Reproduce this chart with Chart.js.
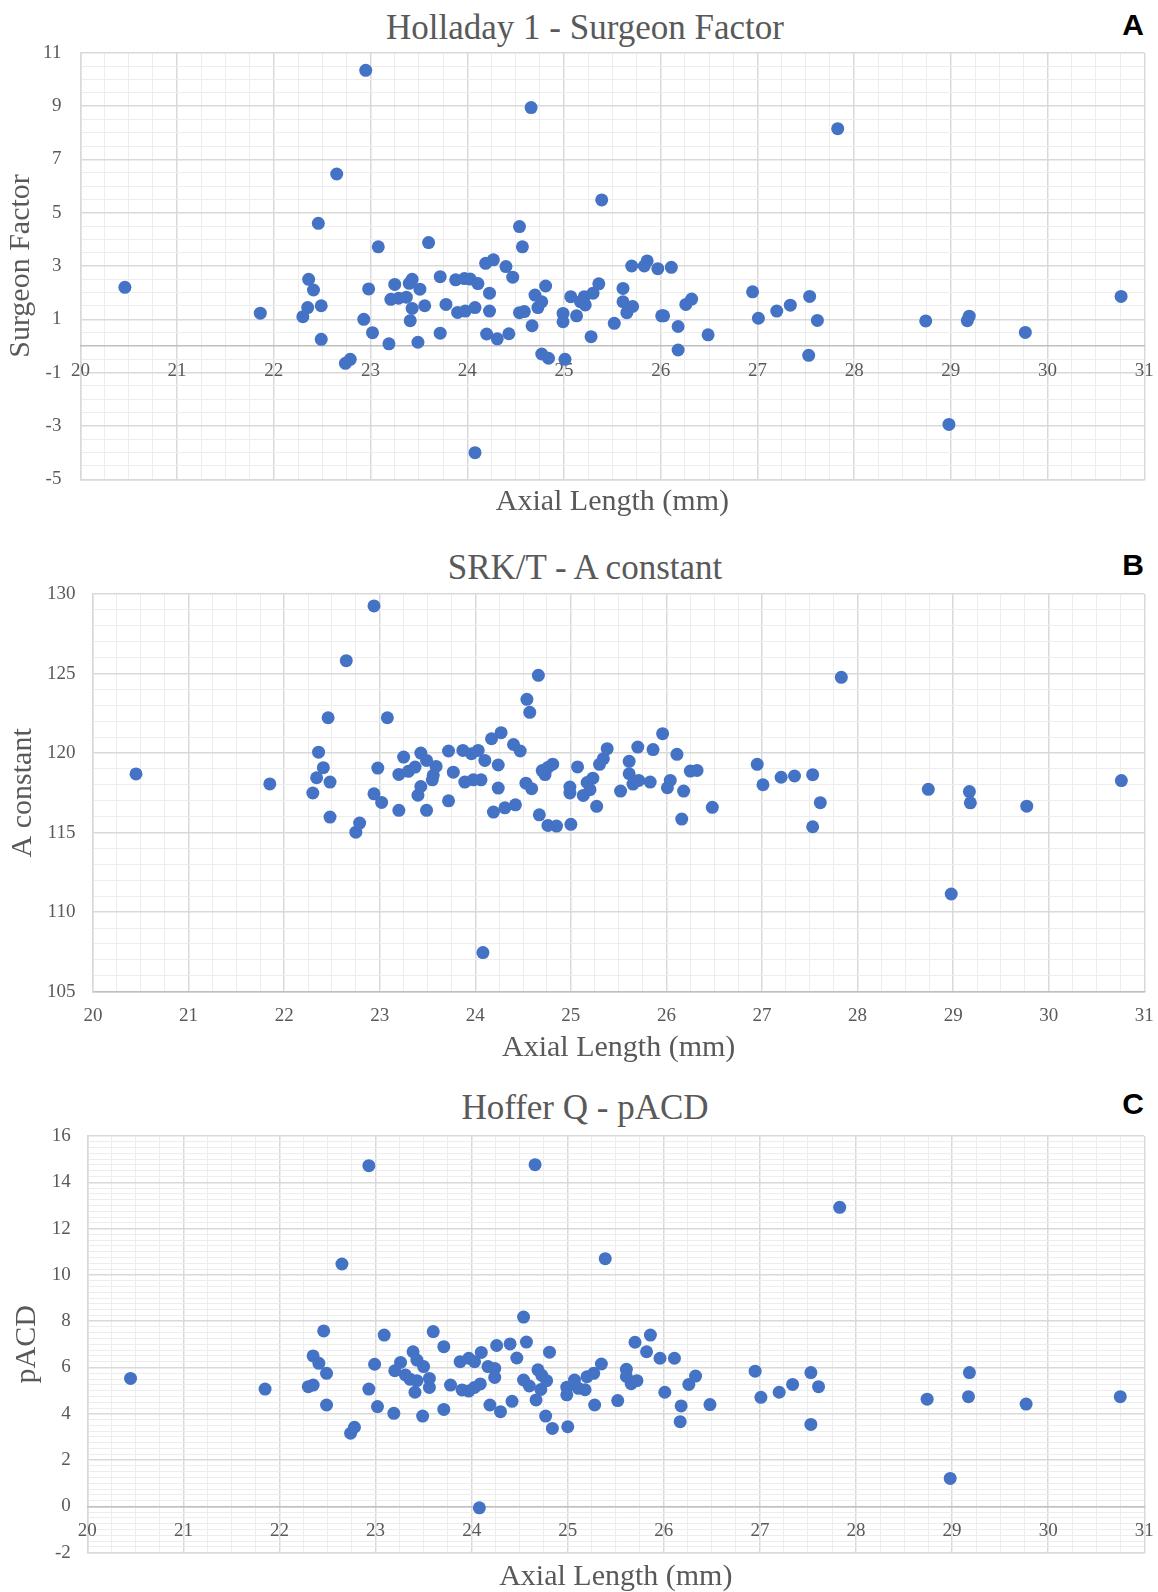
<!DOCTYPE html>
<html>
<head>
<meta charset="utf-8">
<script src="https://cdn.jsdelivr.net/npm/chart.js@4.4.0/dist/chart.umd.min.js"></script>
<style>
  html, body { margin: 0; padding: 0; background: #fff; }
  #page { position: relative; width: 1158px; height: 1592px; overflow: hidden; }
  canvas { position: absolute; left: 0; }
  .title {
    position: absolute; left: 0; width: 1170px; text-align: center;
    font-family: "Liberation Serif", serif; font-size: 35px; line-height: 35px;
    color: #595959; white-space: nowrap;
  }
  .letter {
    position: absolute; left: 1044px; width: 100px; text-align: right;
    font-family: "Liberation Sans", Arial, sans-serif; font-weight: bold;
    font-size: 30px; line-height: 30px; color: #000;
  }
</style>
</head>
<body>
<div id="page">
  <div class="title" style="top:10px">Holladay 1 - Surgeon Factor</div>
  <div class="letter" style="top:10px">A</div>
  <canvas id="chartA" width="1158" height="530" style="top:0px"></canvas>

  <div class="title" style="top:550px">SRK/T - A constant</div>
  <div class="letter" style="top:550px">B</div>
  <canvas id="chartB" width="1158" height="540" style="top:530px"></canvas>

  <div class="title" style="top:1090px">Hoffer Q - pACD</div>
  <div class="letter" style="top:1089px">C</div>
  <canvas id="chartC" width="1158" height="522" style="top:1070px"></canvas>
</div>
<script>
// x axis shared by the three panels
const axialRange = [20, 31]

// A: Holladay 1 - Surgeon Factor
const axialA = [20.46, 21.86, 22.30, 22.35, 22.36, 22.41, 22.46, 22.49, 22.49, 22.65,
  22.74, 22.79, 22.93, 22.95, 22.98, 23.02, 23.08, 23.19, 23.21, 23.25,
  23.29, 23.37, 23.40, 23.41, 23.43, 23.43, 23.49, 23.51, 23.56, 23.60,
  23.72, 23.72, 23.78, 23.88, 23.90, 23.97, 23.98, 24.03, 24.08, 24.08,
  24.11, 24.19, 24.20, 24.23, 24.23, 24.27, 24.31, 24.40, 24.43, 24.47,
  24.54, 24.54, 24.57, 24.59, 24.66, 24.67, 24.70, 24.73, 24.77, 24.77,
  24.81, 24.84, 24.99, 24.99, 25.01, 25.07, 25.13, 25.17, 25.21, 25.22,
  25.28, 25.30, 25.36, 25.39, 25.52, 25.61, 25.61, 25.65, 25.70, 25.71,
  25.83, 25.86, 25.97, 26.01, 26.03, 26.11, 26.18, 26.18, 26.26, 26.32,
  26.49, 26.95, 27.01, 27.20, 27.34, 27.53, 27.54, 27.62, 27.83, 28.74,
  28.98, 29.17, 29.19, 29.77, 30.76]
const surgeonFactor = [2.2, 1.23, 1.10, 1.44, 2.50, 2.10, 4.60, 1.51, 0.25, 6.45,
  -0.65, -0.50, 1.00, 10.34, 2.14, 0.50, 3.72, 0.08, 1.75, 2.31,
  1.79, 1.83, 2.35, 0.95, 2.50, 1.41, 0.14, 2.13, 1.51, 3.88,
  2.60, 0.48, 1.56, 2.48, 1.26, 2.53, 1.31, 2.51, 1.44, -4.00,
  2.34, 3.10, 0.45, 1.98, 1.31, 3.23, 0.27, 2.98, 0.46, 2.58,
  4.48, 1.25, 3.72, 1.29, 8.94, 0.76, 1.91, 1.44, 1.66, -0.30,
  2.25, -0.46, 1.22, 0.91, -0.50, 1.85, 1.13, 1.66, 1.85, 1.54,
  0.35, 1.98, 2.33, 5.48, 0.85, 2.16, 1.66, 1.25, 3.00, 1.48,
  3.00, 3.19, 2.90, 1.13, 1.13, 2.95, 0.73, -0.15, 1.56, 1.76,
  0.42, 2.03, 1.04, 1.31, 1.53, -0.35, 1.86, 0.96, 8.15, 0.94,
  -2.94, 0.95, 1.12, 0.51, 1.86]

// B: SRK/T - A constant
const axialB = [20.45, 21.85, 22.30, 22.34, 22.36, 22.41, 22.46, 22.48, 22.48, 22.65,
  22.75, 22.79, 22.94, 22.94, 22.98, 23.02, 23.08, 23.20, 23.20, 23.25,
  23.30, 23.37, 23.40, 23.43, 23.43, 23.49, 23.49, 23.55, 23.56, 23.59,
  23.72, 23.72, 23.77, 23.87, 23.89, 23.96, 23.98, 24.03, 24.06, 24.08,
  24.10, 24.17, 24.19, 24.24, 24.24, 24.27, 24.31, 24.40, 24.42, 24.47,
  24.53, 24.54, 24.57, 24.59, 24.66, 24.67, 24.70, 24.73, 24.76, 24.76,
  24.81, 24.85, 24.99, 24.99, 25.00, 25.07, 25.13, 25.17, 25.20, 25.23,
  25.27, 25.30, 25.34, 25.38, 25.52, 25.61, 25.61, 25.65, 25.71, 25.70,
  25.83, 25.86, 25.96, 26.01, 26.04, 26.11, 26.16, 26.18, 26.25, 26.32,
  26.48, 26.95, 27.01, 27.20, 27.34, 27.53, 27.53, 27.61, 27.83, 28.74,
  28.98, 29.17, 29.18, 29.77, 30.76]
const aConstant = [118.69, 118.06, 117.49, 118.45, 120.06, 119.08, 122.22, 118.18, 115.98, 125.81,
  115.03, 115.60, 117.44, 129.25, 119.06, 116.90, 122.22, 116.40, 118.66, 119.75,
  118.85, 119.12, 117.35, 117.90, 120.00, 119.54, 116.40, 118.32, 118.60, 119.16,
  120.13, 117.00, 118.80, 120.17, 118.18, 119.96, 118.32, 120.17, 118.32, 107.46,
  119.54, 120.90, 116.29, 119.25, 117.80, 121.28, 116.56, 120.54, 116.75, 120.13,
  118.11, 123.38, 122.56, 117.76, 124.89, 116.12, 118.90, 118.65, 119.10, 115.45,
  119.30, 115.41, 117.86, 117.49, 115.52, 119.13, 117.34, 118.15, 117.70, 118.42,
  116.65, 119.29, 119.65, 120.28, 117.61, 119.48, 118.70, 118.05, 118.28, 120.38,
  118.18, 120.22, 121.22, 117.82, 118.28, 119.92, 115.85, 117.61, 118.87, 118.91,
  116.59, 119.29, 118.01, 118.48, 118.56, 118.64, 115.37, 116.88, 124.76, 117.72,
  111.14, 117.58, 116.87, 116.66, 118.27]

// C: Hoffer Q - pACD
const axialC = [20.45, 21.85, 22.30, 22.35, 22.35, 22.41, 22.46, 22.49, 22.49, 22.65,
  22.74, 22.78, 22.93, 22.93, 22.99, 23.02, 23.09, 23.19, 23.20, 23.26,
  23.31, 23.36, 23.39, 23.41, 23.43, 23.43, 23.49, 23.50, 23.56, 23.56,
  23.60, 23.71, 23.71, 23.78, 23.88, 23.90, 23.97, 23.97, 24.03, 24.03,
  24.08, 24.09, 24.10, 24.17, 24.19, 24.24, 24.24, 24.26, 24.30, 24.40,
  24.42, 24.47, 24.54, 24.54, 24.57, 24.60, 24.66, 24.67, 24.69, 24.72,
  24.73, 24.77, 24.78, 24.81, 24.84, 24.99, 24.99, 25.00, 25.07, 25.11,
  25.18, 25.20, 25.27, 25.28, 25.35, 25.39, 25.52, 25.61, 25.61, 25.66,
  25.70, 25.72, 25.82, 25.86, 25.96, 26.01, 26.11, 26.17, 26.18, 26.26,
  26.33, 26.48, 26.95, 27.01, 27.20, 27.34, 27.53, 27.53, 27.61, 27.83,
  28.74, 28.98, 29.17, 29.18, 29.77, 30.75]
const pACD = [5.53, 5.07, 5.17, 5.24, 6.50, 6.18, 7.58, 5.75, 4.38, 10.47,
  3.16, 3.42, 5.07, 14.72, 6.14, 4.31, 7.40, 4.02, 5.86, 6.22,
  5.68, 5.49, 6.68, 4.93, 6.32, 5.43, 3.90, 6.04, 5.53, 5.14,
  7.55, 6.90, 4.19, 5.24, 6.25, 5.03, 6.40, 4.98, 6.25, 5.14,
  -0.06, 5.29, 6.65, 6.04, 4.38, 5.96, 5.57, 6.95, 4.09, 7.02,
  4.54, 6.41, 8.18, 5.46, 7.10, 5.20, 14.76, 4.60, 5.90, 5.05,
  5.66, 3.90, 5.43, 6.66, 3.37, 5.15, 4.82, 3.44, 5.46, 5.10,
  5.04, 5.60, 5.75, 4.38, 6.15, 10.70, 4.57, 5.92, 5.61, 5.30,
  7.09, 5.43, 6.68, 7.40, 6.40, 4.93, 6.40, 3.66, 4.34, 5.27,
  5.63, 4.40, 5.84, 4.71, 4.93, 5.27, 5.78, 3.54, 5.17, 12.92,
  4.63, 1.21, 4.74, 5.78, 4.42, 4.74]

const BLUE = "#4472C4"
const MAJOR = "#d9d9d9"
const MINOR = "#ededed"
const AXIS = "#bfbfbf"
const TEXT = "#595959"
const SERIF = "'Liberation Serif', 'Times New Roman', serif"

function onStep(v, base, step) {
  const k = (v - base) / step
  return Math.abs(k - Math.round(k)) < 1e-6
}

function gridFor(base, step) {
  return {
    drawTicks: false,
    color: (c) => (c.tick && onStep(c.tick.value, base, step) ? MAJOR : MINOR),
    lineWidth: (c) => (c.tick && onStep(c.tick.value, base, step) ? 1.5 : 1),
  }
}

// x labels sit "drop" px below their axis line; done with lineHeight, not padding,
// so the last label does not pull the plot's right edge in
function xTickFont(drop) {
  return { family: SERIF, size: 19, lineHeight: (2 * drop) / 19 }
}

function makeChart(id, xs, ys, o) {
  const tickFont = { family: SERIF, size: 19, lineHeight: 1.2 }
  const titleFont = { family: SERIF, size: 30, lineHeight: 1 }
  const scales = {
    x: {
      type: "linear",
      position: "bottom",
      min: axialRange[0],
      max: axialRange[1],
      ticks: {
        display: !o.zeroAxis,
        stepSize: 0.25,
        autoSkip: false,
        maxRotation: 0,
        padding: 0,
        font: xTickFont(o.xLabelDrop),
        color: TEXT,
        callback: (v) => (onStep(v, axialRange[0], 1) ? String(v) : ""),
      },
      grid: gridFor(axialRange[0], 1),
      border: { color: o.zeroAxis ? MAJOR : AXIS, width: 1.5 },
      title: {
        display: true,
        text: "Axial Length (mm)",
        font: titleFont,
        color: TEXT,
        padding: { top: 0, bottom: o.xTitlePad },
      },
      afterFit: (s) => { s.height = o.xHeight },
    },
    y: {
      type: "linear",
      position: "left",
      min: o.yMin,
      max: o.yMax,
      ticks: {
        stepSize: o.yMinor,
        autoSkip: false,
        padding: o.yTickPad,
        font: tickFont,
        color: TEXT,
        callback: (v) => (onStep(v, o.yMin, o.yMajor) ? String(v) : ""),
      },
      grid: gridFor(o.yMin, o.yMajor),
      border: { color: MAJOR, width: 1.5 },
      title: {
        display: true,
        text: o.yTitle,
        font: titleFont,
        color: TEXT,
        padding: { top: o.yTitlePad, bottom: 0 },
      },
      afterFit: (s) => { s.width = o.yWidth },
    },
  }
  if (o.zeroAxis) {
    // the labelled x axis crosses the value axis at 0, as in Excel
    scales.x0 = {
      type: "linear",
      axis: "x",
      position: { y: 0 },
      min: axialRange[0],
      max: axialRange[1],
      ticks: {
        stepSize: 1,
        autoSkip: false,
        maxRotation: 0,
        padding: 0,
        font: xTickFont(o.xLabelDrop),
        color: TEXT,
      },
      grid: { display: false, drawTicks: false },
      border: { color: AXIS, width: 1.5 },
    }
  }
  return new Chart(document.getElementById(id), {
    type: "scatter",
    data: {
      datasets: [
        {
          data: xs.map((x, i) => ({ x: x, y: ys[i] })),
          xAxisID: "x",
          yAxisID: "y",
          backgroundColor: BLUE,
          borderWidth: 0,
          pointRadius: 6.5,
          pointHoverRadius: 6.5,
        },
      ],
    },
    options: {
      responsive: false,
      animation: false,
      devicePixelRatio: 1,
      events: [],
      layout: { padding: { top: o.top, right: 13.7, bottom: 0, left: 0 } },
      plugins: { legend: { display: false }, tooltip: { enabled: false } },
      scales: scales,
    },
  })
}

makeChart("chartA", axialA, surgeonFactor, {
  yMin: -5, yMax: 11, yMajor: 2, yMinor: 0.5, yTitle: "Surgeon Factor",
  yWidth: 80.4, yTickPad: 19, yTitlePad: 6.3,
  top: 52.7, xHeight: 50.7, xTitlePad: 13.3, xLabelDrop: 24.8, zeroAxis: true,
})

makeChart("chartB", axialB, aConstant, {
  yMin: 105, yMax: 130, yMajor: 5, yMinor: 1, yTitle: "A constant",
  yWidth: 93, yTickPad: 17.6, yTitlePad: 8.2,
  top: 64, xHeight: 78.3, xTitlePad: 7, xLabelDrop: 24.3, zeroAxis: false,
})

makeChart("chartC", axialC, pACD, {
  yMin: -2, yMax: 16, yMajor: 2, yMinor: 0.25, yTitle: "pACD",
  yWidth: 87.3, yTickPad: 16.5, yTitlePad: 12,
  top: 66, xHeight: 39.3, xTitlePad: 0.3, xLabelDrop: 24.5, zeroAxis: true,
})
</script>
</body>
</html>
